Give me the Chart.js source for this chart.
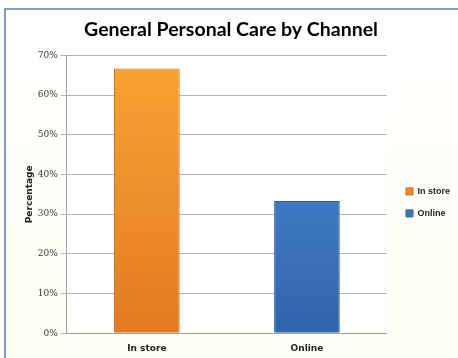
<!DOCTYPE html>
<html>
<head>
<script src="https://cdn.jsdelivr.net/npm/chart.js"></script>
<title>General Personal Care by Channel</title>
<style>
  html, body { margin: 0; padding: 0; background: #fff; }
  #frame {
    position: absolute; left: 4px; top: 8px; width: 454px; height: 350px;
    border-left: 2px solid #7f9dc2; border-top: 2px solid #7f9dc2;
    background: linear-gradient(#ffffff, #fffff4);
  }
  #wrap { position: absolute; left: 0; top: 0; width: 458px; height: 358px; }
</style>
</head>
<body>
<div id="frame"></div>
<div id="wrap"><canvas id="myChart"></canvas></div>
<script>
  // data
  const categories = ['In store', 'Online'];
  const seriesNames = ['In store', 'Online'];
  const inStore = [66.7, null];
  const online = [null, 33.3];
  const yTicks = [0, 10, 20, 30, 40, 50, 60, 70];

  function grad(ctx, top, bottom) {
    const c = ctx.chart;
    const area = c.chartArea;
    if (!area) return top;
    const g = c.ctx.createLinearGradient(0, area.top, 0, area.bottom);
    g.addColorStop(0, top);
    g.addColorStop(1, bottom);
    return g;
  }

  const whitePlot = {
    id: 'whitePlot',
    beforeDraw(chart) {
      const a = chart.chartArea, c = chart.ctx;
      c.save();
      c.fillStyle = '#ffffff';
      c.fillRect(a.left, a.top, a.right - a.left, a.bottom - a.top);
      c.restore();
    }
  };

  // nudge the legend a bit further right, like the original
  const legendShift = {
    id: 'legendShift',
    afterLayout(chart) {
      chart.legend.left += 6;
    }
  };

  const ctx = document.getElementById('myChart').getContext('2d');
  const chart = new Chart(ctx, {
    type: 'bar',
    data: {
      labels: categories,
      datasets: [{
        label: seriesNames[0],
        data: inStore,
        backgroundColor: c => grad(c, '#fba334', '#e27a22'),
        borderColor: '#c8681c',
        borderWidth: 1,
        grouped: false,
        barPercentage: 0.41,
        categoryPercentage: 1
      }, {
        label: seriesNames[1],
        data: online,
        backgroundColor: c => grad(c, '#4f8ddb', '#3065ab'),
        borderColor: '#2d5c9a',
        borderWidth: 1,
        grouped: false,
        barPercentage: 0.41,
        categoryPercentage: 1
      }]
    },
    options: {
      responsive: true,
      maintainAspectRatio: false,
      animation: false,
      layout: { padding: { top: 6, right: 4, left: 8, bottom: 2 } },
      plugins: {
        title: {
          display: true,
          text: 'General Personal Care by Channel',
          color: '#000',
          font: { family: 'Lato', size: 19.5, weight: 'bold' },
          padding: { top: 12, bottom: 14 }
        },
        legend: {
          position: 'right',
          title: { display: true, text: ' ', font: { size: 9 }, padding: { top: 16, bottom: 16 } },
          labels: {
            boxWidth: 7, boxHeight: 7,
            color: '#222',
            font: { family: 'Liberation Sans', size: 9, weight: 'bold' },
            padding: 13
          }
        },
        tooltip: { enabled: false }
      },
      scales: {
        x: {
          grid: { display: false },
          border: { color: '#a0a0a0' },
          ticks: { color: '#222', font: { family: 'DejaVu Sans', size: 9, weight: 'bold' }, padding: 2 }
        },
        y: {
          min: 0, max: 70,
          afterBuildTicks: axis => { axis.ticks = yTicks.map(v => ({ value: v })); },
          grid: { color: '#b4b4b4', tickLength: 6, drawTicks: true },
          border: { color: '#a0a0a0' },
          title: {
            display: true, text: 'Percentage', color: '#222',
            font: { family: 'DejaVu Sans', size: 9, weight: 'bold' }, padding: { top: 16, bottom: 0 }
          },
          ticks: {
            color: '#333',
            font: { family: 'DejaVu Serif', size: 9 },
            padding: 3,
            callback: v => v + '%'
          }
        }
      }
    },
    plugins: [whitePlot, legendShift]
  });
</script>
</body>
</html>
